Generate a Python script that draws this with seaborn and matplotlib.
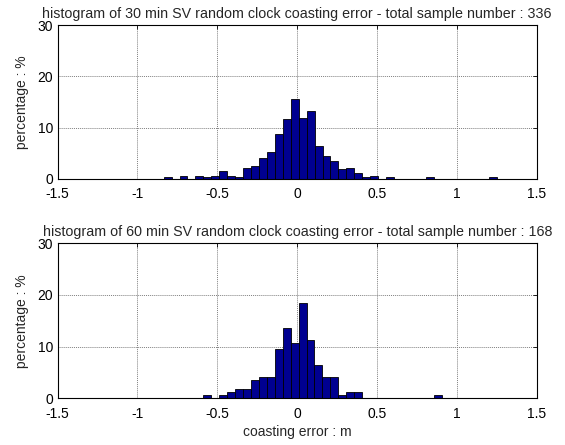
import numpy as np
import pandas as pd
import matplotlib
matplotlib.use("Agg")
import matplotlib.pyplot as plt
import seaborn as sns

# ---- data ----
top_centers = [-0.811, -0.712, -0.612, -0.562, -0.513, -0.463, -0.414, -0.364,
               -0.314, -0.265, -0.215, -0.165, -0.115, -0.066, -0.016, 0.034,
               0.083, 0.133, 0.183, 0.232, 0.282, 0.332, 0.382, 0.431, 0.481,
               0.580, 0.829, 1.227]
top_pct = [0.3, 0.6, 0.6, 0.3, 0.6, 1.5, 0.6, 0.3,
           2.1, 2.6, 4.1, 5.35, 8.8, 11.7, 15.5, 11.9,
           13.2, 6.4, 4.45, 3.6, 1.9, 2.1, 1.1, 0.3, 0.6,
           0.3, 0.3, 0.3]

bot_centers = [-0.563, -0.464, -0.414, -0.364, -0.315, -0.265, -0.215, -0.166,
               -0.116, -0.066, -0.017, 0.033, 0.083, 0.133, 0.182, 0.232,
               0.282, 0.332, 0.381, 0.878]
bot_pct = [0.6, 0.6, 1.2, 1.8, 1.8, 3.6, 4.2, 4.2,
           9.5, 13.7, 10.7, 18.45, 11.3, 6.5, 4.2, 4.2,
           0.6, 1.2, 1.2, 0.6]

bin_width = 0.0497
x_ticks = [-1.5, -1, -0.5, 0, 0.5, 1, 1.5]
x_ticklabels = ["-1.5", "-1", "-0.5", "0", "0.5", "1", "1.5"]
y_ticks = [0, 10, 20, 30]
titles = ["histogram of 30 min SV random clock coasting error - total sample number : 336",
          "histogram of 60 min SV random clock coasting error - total sample number : 168"]
ylabel = "percentage : %"
xlabel = "coasting error : m"

sns.set_theme(style="white")
plt.rcParams['font.family'] = ['Liberation Sans', 'DejaVu Sans']
FS = 10
TFS = 10.3

fig = plt.figure(figsize=(5.65, 4.45), dpi=100)
ax1 = fig.add_axes([0.1018, 0.5978, 0.8486, 0.3460])
ax2 = fig.add_axes([0.1018, 0.1049, 0.8486, 0.3484])

for ax, centers, pct, title in [(ax1, top_centers, top_pct, titles[0]),
                                (ax2, bot_centers, bot_pct, titles[1])]:
    df = pd.DataFrame({"x": centers, "w": pct})
    lo = min(centers) - bin_width / 2
    n_bins = int(round((max(centers) - min(centers)) / bin_width)) + 1
    hi = lo + n_bins * bin_width
    sns.histplot(data=df, x="x", weights="w", binwidth=bin_width, binrange=(lo, hi),
                 ax=ax, color="#000090", edgecolor="black", linewidth=0.6,
                 alpha=1.0, stat="count")
    ax.set_xlim(-1.5, 1.5)
    ax.set_ylim(0, 30)
    ax.set_xticks(x_ticks)
    ax.set_xticklabels(x_ticklabels)
    ax.set_yticks(y_ticks)
    ax.grid(True, color="#808080", linestyle=(0, (1, 1)), linewidth=0.7)
    ax.set_axisbelow(True)
    ax.tick_params(direction="in", length=3, width=0.6, top=True, right=True,
                   labelsize=FS, colors="black")
    ax.tick_params(axis="x", pad=6)
    ax.tick_params(axis="y", pad=3)
    for s in ax.spines.values():
        s.set_color("black")
        s.set_linewidth(0.8)
    ax.set_title(title, fontsize=TFS, pad=5)
    ax.set_ylabel(ylabel, fontsize=FS, labelpad=6)
    ax.set_xlabel("")

ax2.set_xlabel(xlabel, fontsize=FS, labelpad=3)

fig.savefig("out.png", dpi=100, facecolor="white")
